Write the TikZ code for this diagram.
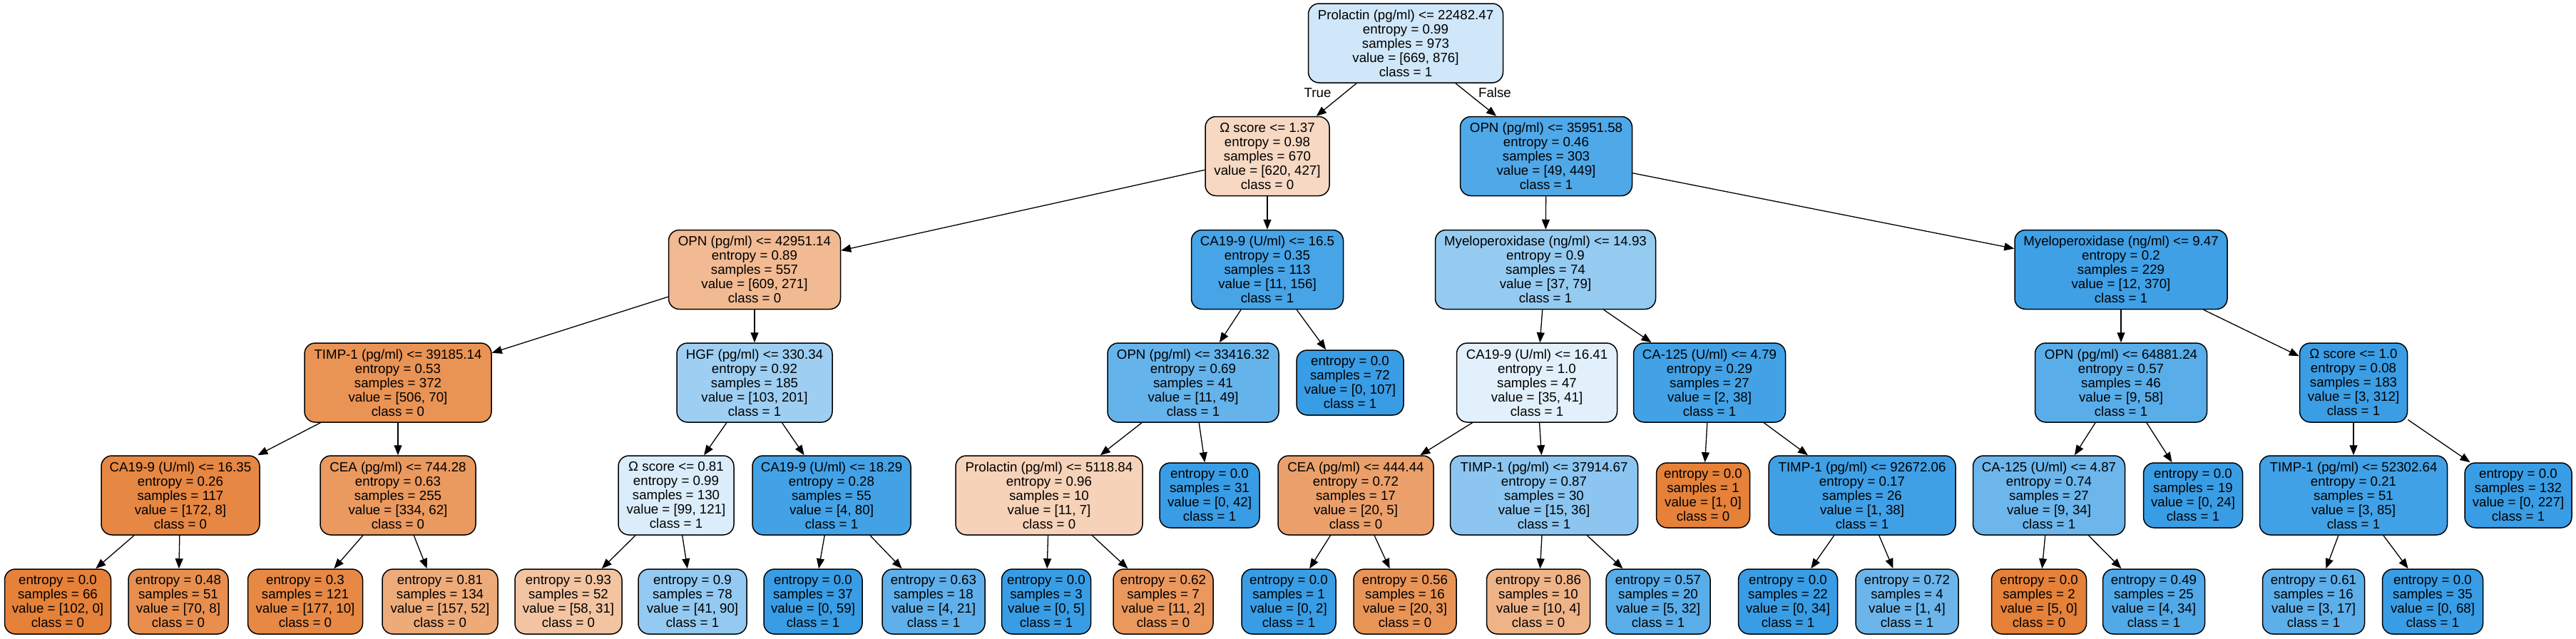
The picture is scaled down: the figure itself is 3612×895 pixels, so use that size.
\documentclass[tikz,border=0pt]{standalone}
\usepackage{fontspec}
\setmainfont{Liberation Sans}
\usetikzlibrary{arrows.meta}
\definecolor{cO}{HTML}{E58139}
\definecolor{cB}{HTML}{399DE5}
\tikzset{
  tn/.style={draw=black, line width=1.5pt, rounded corners=15pt, align=center,
    font=\fontsize{18.7}{20}\selectfont, inner sep=0pt, minimum height=111pt},
  lf/.style={tn, minimum height=91pt},
  ed/.style={-{Triangle[length=14pt,width=11pt]}, line width=1.3pt},
  lbl/.style={font=\fontsize{18.7}{20}\selectfont, inner sep=0pt},
}
\begin{document}
\begin{tikzpicture}[x=1pt,y=1pt]
\useasboundingbox (0,0) rectangle (3612,-895);
% level 0
\node[tn, minimum width=273pt, fill=cB!24] (n0) at (1971,-60.5) {Prolactin (pg/ml) <= 22482.47\\entropy = 0.99\\samples = 973\\value = [669, 876]\\class = 1};
% level 1
\node[tn, minimum width=174pt, fill=cO!31] (n1) at (1777,-219) {Ω score <= 1.37\\entropy = 0.98\\samples = 670\\value = [620, 427]\\class = 0};
\node[tn, minimum width=241pt, fill=cB!89] (n2) at (2168,-219) {OPN (pg/ml) <= 35951.58\\entropy = 0.46\\samples = 303\\value = [49, 449]\\class = 1};
% level 2
\node[tn, minimum width=241pt, fill=cO!55] (n3) at (1058,-378) {OPN (pg/ml) <= 42951.14\\entropy = 0.89\\samples = 557\\value = [609, 271]\\class = 0};
\node[tn, minimum width=213pt, fill=cB!93] (n4) at (1777,-378) {CA19-9 (U/ml) <= 16.5\\entropy = 0.35\\samples = 113\\value = [11, 156]\\class = 1};
\node[tn, minimum width=309pt, fill=cB!53] (n5) at (2167,-378) {Myeloperoxidase (ng/ml) <= 14.93\\entropy = 0.9\\samples = 74\\value = [37, 79]\\class = 1};
\node[tn, minimum width=298pt, fill=cB!97] (n6) at (2974,-378) {Myeloperoxidase (ng/ml) <= 9.47\\entropy = 0.2\\samples = 229\\value = [12, 370]\\class = 1};
% level 3
\node[tn, minimum width=262pt, fill=cO!86] (n7) at (558,-536.5) {TIMP-1 (pg/ml) <= 39185.14\\entropy = 0.53\\samples = 372\\value = [506, 70]\\class = 0};
\node[tn, minimum width=218pt, fill=cB!49] (n8) at (1058,-536.5) {HGF (pg/ml) <= 330.34\\entropy = 0.92\\samples = 185\\value = [103, 201]\\class = 1};
\node[tn, minimum width=240pt, fill=cB!78] (n9) at (1673,-536.5) {OPN (pg/ml) <= 33416.32\\entropy = 0.69\\samples = 41\\value = [11, 49]\\class = 1};
\node[lf, minimum width=150pt, fill=cB] (n10) at (1893,-536.5) {entropy = 0.0\\samples = 72\\value = [0, 107]\\class = 1};
\node[tn, minimum width=225pt, fill=cB!15] (n11) at (2155,-536.5) {CA19-9 (U/ml) <= 16.41\\entropy = 1.0\\samples = 47\\value = [35, 41]\\class = 1};
\node[tn, minimum width=213pt, fill=cB!95] (n12) at (2397,-536.5) {CA-125 (U/ml) <= 4.79\\entropy = 0.29\\samples = 27\\value = [2, 38]\\class = 1};
\node[tn, minimum width=241pt, fill=cB!84] (n13) at (2974,-536.5) {OPN (pg/ml) <= 64881.24\\entropy = 0.57\\samples = 46\\value = [9, 58]\\class = 1};
\node[tn, minimum width=151pt, fill=cB!99] (n14) at (3300,-536.5) {Ω score <= 1.0\\entropy = 0.08\\samples = 183\\value = [3, 312]\\class = 1};
% level 4
\node[tn, minimum width=222pt, fill=cO!95] (n15) at (253,-694.5) {CA19-9 (U/ml) <= 16.35\\entropy = 0.26\\samples = 117\\value = [172, 8]\\class = 0};
\node[tn, minimum width=218pt, fill=cO!81] (n16) at (558,-694.5) {CEA (pg/ml) <= 744.28\\entropy = 0.63\\samples = 255\\value = [334, 62]\\class = 0};
\node[tn, minimum width=162pt, fill=cB!18] (n17) at (948,-694.5) {Ω score <= 0.81\\entropy = 0.99\\samples = 130\\value = [99, 121]\\class = 1};
\node[tn, minimum width=222pt, fill=cB!95] (n18) at (1166,-694.5) {CA19-9 (U/ml) <= 18.29\\entropy = 0.28\\samples = 55\\value = [4, 80]\\class = 1};
\node[tn, minimum width=262pt, fill=cO!36] (n19) at (1471,-694.5) {Prolactin (pg/ml) <= 5118.84\\entropy = 0.96\\samples = 10\\value = [11, 7]\\class = 0};
\node[lf, minimum width=140pt, fill=cB] (n20) at (1696,-694.5) {entropy = 0.0\\samples = 31\\value = [0, 42]\\class = 1};
\node[tn, minimum width=218pt, fill=cO!75] (n21) at (1901,-694.5) {CEA (pg/ml) <= 444.44\\entropy = 0.72\\samples = 17\\value = [20, 5]\\class = 0};
\node[tn, minimum width=263pt, fill=cB!58] (n22) at (2165,-694.5) {TIMP-1 (pg/ml) <= 37914.67\\entropy = 0.87\\samples = 30\\value = [15, 36]\\class = 1};
\node[lf, minimum width=131pt, fill=cO] (n23) at (2388,-694.5) {entropy = 0.0\\samples = 1\\value = [1, 0]\\class = 0};
\node[tn, minimum width=262pt, fill=cB!97] (n24) at (2611,-694.5) {TIMP-1 (pg/ml) <= 92672.06\\entropy = 0.17\\samples = 26\\value = [1, 38]\\class = 1};
\node[tn, minimum width=213pt, fill=cB!74] (n25) at (2873,-694.5) {CA-125 (U/ml) <= 4.87\\entropy = 0.74\\samples = 27\\value = [9, 34]\\class = 1};
\node[lf, minimum width=139pt, fill=cB] (n26) at (3075,-694.5) {entropy = 0.0\\samples = 19\\value = [0, 24]\\class = 1};
\node[tn, minimum width=263pt, fill=cB!96] (n27) at (3300,-694.5) {TIMP-1 (pg/ml) <= 52302.64\\entropy = 0.21\\samples = 51\\value = [3, 85]\\class = 1};
\node[lf, minimum width=150pt, fill=cB] (n28) at (3531,-694.5) {entropy = 0.0\\samples = 132\\value = [0, 227]\\class = 1};
% level 5
\node[lf, minimum width=149pt, fill=cO] (n29) at (81,-843.5) {entropy = 0.0\\samples = 66\\value = [102, 0]\\class = 0};
\node[lf, minimum width=140pt, fill=cO!89] (n30) at (250,-843.5) {entropy = 0.48\\samples = 51\\value = [70, 8]\\class = 0};
\node[lf, minimum width=161pt, fill=cO!94] (n31) at (428,-843.5) {entropy = 0.3\\samples = 121\\value = [177, 10]\\class = 0};
\node[lf, minimum width=162pt, fill=cO!67] (n32) at (617,-843.5) {entropy = 0.81\\samples = 134\\value = [157, 52]\\class = 0};
\node[lf, minimum width=150pt, fill=cO!47] (n33) at (797,-843.5) {entropy = 0.93\\samples = 52\\value = [58, 31]\\class = 0};
\node[lf, minimum width=152pt, fill=cB!54] (n34) at (971,-843.5) {entropy = 0.9\\samples = 78\\value = [41, 90]\\class = 1};
\node[lf, minimum width=138pt, fill=cB] (n35) at (1140,-843.5) {entropy = 0.0\\samples = 37\\value = [0, 59]\\class = 1};
\node[lf, minimum width=144pt, fill=cB!81] (n36) at (1309,-843.5) {entropy = 0.63\\samples = 18\\value = [4, 21]\\class = 1};
\node[lf, minimum width=125pt, fill=cB] (n37) at (1467,-843.5) {entropy = 0.0\\samples = 3\\value = [0, 5]\\class = 1};
\node[lf, minimum width=140pt, fill=cO!82] (n38) at (1631,-843.5) {entropy = 0.62\\samples = 7\\value = [11, 2]\\class = 0};
\node[lf, minimum width=132pt, fill=cB] (n39) at (1807,-843.5) {entropy = 0.0\\samples = 1\\value = [0, 2]\\class = 1};
\node[lf, minimum width=144pt, fill=cO!85] (n40) at (1970,-843.5) {entropy = 0.56\\samples = 16\\value = [20, 3]\\class = 0};
\node[lf, minimum width=145pt, fill=cO!60] (n41) at (2157,-843.5) {entropy = 0.86\\samples = 10\\value = [10, 4]\\class = 0};
\node[lf, minimum width=146pt, fill=cB!84] (n42) at (2325,-843.5) {entropy = 0.57\\samples = 20\\value = [5, 32]\\class = 1};
\node[lf, minimum width=139pt, fill=cB] (n43) at (2507,-843.5) {entropy = 0.0\\samples = 22\\value = [0, 34]\\class = 1};
\node[lf, minimum width=144pt, fill=cB!75] (n44) at (2674,-843.5) {entropy = 0.72\\samples = 4\\value = [1, 4]\\class = 1};
\node[lf, minimum width=133pt, fill=cO] (n45) at (2859,-843.5) {entropy = 0.0\\samples = 2\\value = [5, 0]\\class = 0};
\node[lf, minimum width=143pt, fill=cB!88] (n46) at (3020,-843.5) {entropy = 0.49\\samples = 25\\value = [4, 34]\\class = 1};
\node[lf, minimum width=143pt, fill=cB!82] (n47) at (3244,-843.5) {entropy = 0.61\\samples = 16\\value = [3, 17]\\class = 1};
\node[lf, minimum width=141pt, fill=cB] (n48) at (3411,-843.5) {entropy = 0.0\\samples = 35\\value = [0, 68]\\class = 1};
% labels
\node[lbl] (tl) at (1847.5,-130) {True};
\node[lbl] (fl) at (2096,-130) {False};
% edges
\foreach \a/\b in {n0/n1,n0/n2,n1/n3,n1/n4,n2/n5,n2/n6,n3/n7,n3/n8,n4/n9,n4/n10,
  n5/n11,n5/n12,n6/n13,n6/n14,n7/n15,n7/n16,n8/n17,n8/n18,n9/n19,n9/n20,
  n11/n21,n11/n22,n12/n23,n12/n24,n13/n25,n13/n26,n14/n27,n14/n28,
  n15/n29,n15/n30,n16/n31,n16/n32,n17/n33,n17/n34,n18/n35,n18/n36,
  n19/n37,n19/n38,n21/n39,n21/n40,n22/n41,n22/n42,n24/n43,n24/n44,
  n25/n45,n25/n46,n27/n47,n27/n48}
  \draw[ed] (\a) -- (\b);
\end{tikzpicture}
\end{document}
